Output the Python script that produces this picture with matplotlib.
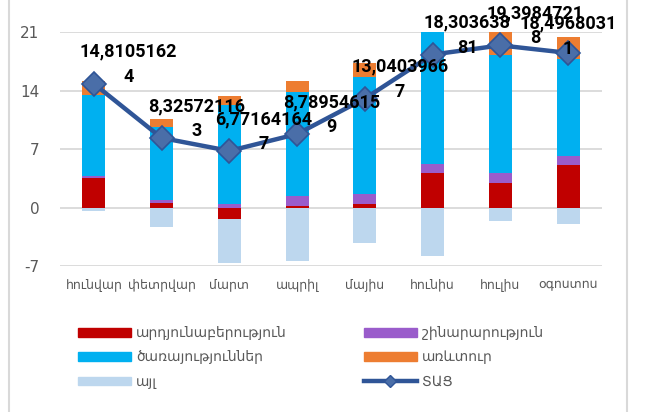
import numpy as np
import matplotlib
matplotlib.use('Agg')
import matplotlib.pyplot as plt
from matplotlib.lines import Line2D
from matplotlib.patches import Patch

plt.rcParams['font.family'] = ['DejaVu Sans']
plt.rcParams['axes.unicode_minus'] = False

months = ['հունվար', 'փետրվար', 'մարտ', 'ապրիլ', 'մայիս', 'հունիս', 'հուլիս', 'օգոստոս']

industry = [3.53, 0.48, -1.40, 0.20, 0.44, 4.13, 2.93, 5.05]
construction = [0.24, 0.44, 0.44, 1.16, 1.20, 1.12, 1.16, 1.16]
services = [9.70, 8.74, 11.80, 12.46, 13.95, 17.00, 14.15, 11.58]
trade = [1.68, 0.88, 1.08, 1.28, 1.76, 1.90, 2.77, 2.65]
other = [-0.44, -2.28, -5.30, -6.37, -4.29, -5.85, -1.64, -2.00]

gdp = [14.81051624, 8.325721163, 6.771641647, 8.789546159,
       13.04039667, 18.30363881, 19.39847218, 18.49680311]
gdp_labels = ['14,8105162\n4', '8,32572116\n3', '6,77164164\n7', '8,78954615\n9',
              '13,0403966\n7', '18,303638\n81', '19,3984721\n8', '18,4968031\n1']

series_names = ['արդյունաբերություն', 'շինարարություն', 'ծառայություններ', 'առևտուր', 'այլ']
line_name = 'ՏԱՑ'

colors = ['#C00000', '#9A5CCB', '#00B0F0', '#ED7D31', '#BDD7EE']
line_color = '#2F5597'
marker_color = '#4A6EA8'

fig = plt.figure(figsize=(6.52, 4.12), dpi=100)
ax = fig.add_axes([60 / 652, 1 - 266 / 412, 542 / 652, 234 / 412])

x = np.arange(len(months))
pos = np.zeros(len(months))
neg = np.zeros(len(months))
for vals, c in zip([industry, construction, services, trade, other], colors):
    v = np.array(vals)
    bottom = np.where(v >= 0, pos, neg)
    ax.bar(x, v, 0.34, bottom=bottom, color=c, zorder=2)
    pos = pos + np.where(v >= 0, v, 0)
    neg = neg + np.where(v < 0, v, 0)

ax.plot(x, gdp, color=line_color, lw=3.2, marker='D', ms=12,
        mfc=marker_color, mec=line_color, mew=1.2, zorder=4)

for i, (v, lab) in enumerate(zip(gdp, gdp_labels)):
    off = (0, 12) if i == len(gdp) - 1 else (25, 14)
    ax.annotate(lab, (i, v), xytext=off, textcoords='offset points',
                ha='center', va='center', fontsize=13, fontweight='bold',
                family='Roboto', linespacing=1.5, color='black', zorder=5)

ax.set_xlim(-0.5, len(months) - 0.5)
ax.set_ylim(-7, 21)
ax.set_yticks([-7, 0, 7, 14, 21])
ax.set_xticks(x)
ax.set_xticklabels(months, fontsize=9, color='#595959')
ax.tick_params(axis='y', labelsize=11, labelcolor='#595959', length=0, pad=15)
ax.tick_params(axis='x', length=0, pad=9)
ax.yaxis.grid(True, color='#D9D9D9', lw=1.3, zorder=0)
ax.set_axisbelow(True)
for s in ax.spines.values():
    s.set_visible(False)

# chart area border
for xx in (9 / 652, 627 / 652):
    fig.add_artist(Line2D([xx, xx], [0, 1], transform=fig.transFigure, color='#D9D9D9', lw=1.5))

h = [Patch(color=c) for c in colors]
hl = Line2D([], [], color=line_color, lw=3.2, marker='D', ms=6, mfc=marker_color, mec=line_color)
leg_kw = dict(frameon=False, fontsize=10, labelcolor='#595959', handlelength=3.8,
              handleheight=0.6, handletextpad=0.4, labelspacing=0.75, borderpad=0, borderaxespad=0)
fig.legend([h[0], h[2], h[4]], [series_names[0], series_names[2], series_names[4]],
           loc='upper left', bbox_to_anchor=(78 / 652, 1 - 326 / 412), **leg_kw)
fig.legend([h[1], h[3], hl], [series_names[1], series_names[3], line_name],
           loc='upper left', bbox_to_anchor=(364 / 652, 1 - 326 / 412), **leg_kw)

fig.savefig('out.png', dpi=100)
